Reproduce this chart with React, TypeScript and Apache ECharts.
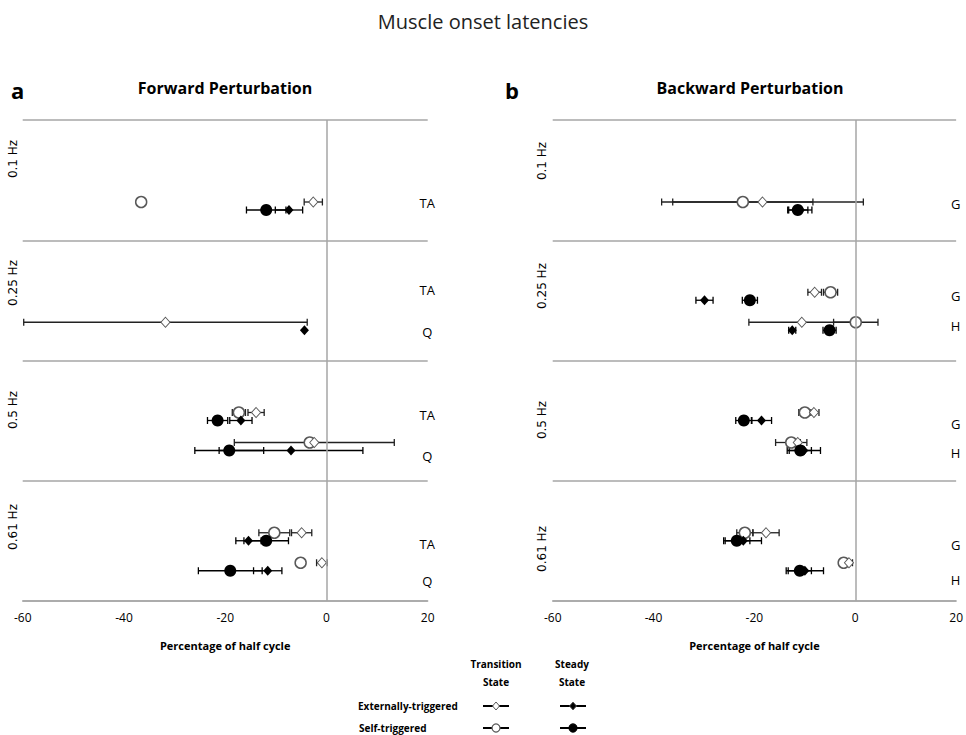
import React, { useEffect, useRef } from "react";
import * as echarts from "echarts";

// ---- categories ----
const FREQS = ["0.1 Hz", "0.25 Hz", "0.5 Hz", "0.61 Hz"];
const FWD_MUSCLES = [["TA"], ["TA", "Q"], ["TA", "Q"], ["TA", "Q"]];
const BWD_MUSCLES = [["G"], ["G", "H"], ["G", "H"], ["G", "H"]];
const X_TICKS = [-60, -40, -20, 0, 20];

// ---- data: [frequency index, muscle, mean (% half cycle), error] ----
const fwdExtTransition: [number, string, number, number][] = [
  [0, "TA", -2.6, 1.8],
  [1, "Q", -31.8, 28],
  [2, "TA", -13.9, 1.6],
  [2, "Q", -2.4, 15.8],
  [3, "TA", -4.9, 2.0],
  [3, "Q", -0.9, 1.05],
];
const fwdSelfTransition: [number, string, number, number][] = [
  [0, "TA", -36.6, 0],
  [2, "TA", -17.3, 1.3],
  [2, "Q", -3.3, 0],
  [3, "TA", -10.3, 3.05],
  [3, "Q", -5.1, 0.8],
];
const fwdExtSteady: [number, string, number, number][] = [
  [0, "TA", -7.4, 2.7],
  [1, "Q", -4.35, 0],
  [2, "TA", -16.9, 2.2],
  [2, "Q", -7.0, 14.2],
  [3, "TA", -15.4, 2.5],
  [3, "Q", -11.6, 2.8],
];
const fwdSelfSteady: [number, string, number, number][] = [
  [0, "TA", -11.9, 3.9],
  [2, "TA", -21.5, 2.0],
  [2, "Q", -19.2, 6.8],
  [3, "TA", -11.9, 4.4],
  [3, "Q", -19.0, 6.3],
];

const bwdExtTransition: [number, string, number, number][] = [
  [0, "G", -18.4, 20],
  [1, "G", -8.05, 1.35],
  [1, "H", -10.6, 10.5],
  [2, "G", -8.2, 1.0],
  [2, "H", -11.4, 0.5],
  [3, "G", -17.7, 2.6],
  [3, "H", -1.25, 0.7],
];
const bwdSelfTransition: [number, string, number, number][] = [
  [0, "G", -22.3, 13.9],
  [1, "G", -4.9, 1.4],
  [1, "H", 0.1, 4.4],
  [2, "G", -10.0, 1.2],
  [2, "H", -12.7, 3.1],
  [3, "G", -21.9, 1.6],
  [3, "H", -2.3, 0.6],
];
const bwdExtSteady: [number, string, number, number][] = [
  [0, "G", -10.9, 2.3],
  [1, "G", -29.9, 1.7],
  [1, "H", -12.5, 0.7],
  [2, "G", -18.6, 2.0],
  [2, "H", -10.2, 3.3],
  [3, "G", -22.2, 3.6],
  [3, "H", -10.0, 3.7],
];
const bwdSelfSteady: [number, string, number, number][] = [
  [0, "G", -11.4, 2.0],
  [1, "G", -20.9, 1.5],
  [1, "H", -5.1, 1.3],
  [2, "G", -22.1, 1.6],
  [2, "H", -10.9, 2.2],
  [3, "G", -23.5, 2.6],
  [3, "H", -11.0, 2.3],
];

// ---- layout (not data) ----
const ROW_PX = 120.25;
const UPPER = 52;
const LOWER = 82;
const STEADY_SHIFT = 8;
// muscle label vertical offsets inside each row (px)
const FWD_LABEL_OFF = [[83], [50, 92], [54.5, 96], [64, 101]];
const BWD_LABEL_OFF = [[84], [56.7, 86.7], [63.5, 92.8], [65, 100]];
const FWD_FREQ_Y = [159, 283, 410, 527];
const BWD_FREQ_Y = [161, 286, 420, 549];

const GRAY = "#a6a6a6";
const FONT = "'Open Sans', 'Liberation Sans', sans-serif";

function yOf(row: number, muscle: string, muscles: string[][], steady: boolean) {
  const list = muscles[row];
  const slot = list.length === 1 || list.indexOf(muscle) === 1 ? LOWER : UPPER;
  return row + (slot + (steady ? STEADY_SHIFT : 0)) / ROW_PX;
}

function toPoints(arr: [number, string, number, number][], muscles: string[][], steady: boolean) {
  return arr.map((d) => [d[2], yOf(d[0], d[1], muscles, steady), d[3]]);
}

function errorSeries(data: number[][], gi: number, color: string) {
  return {
    type: "custom",
    xAxisIndex: gi,
    yAxisIndex: gi,
    z: 2,
    silent: true,
    data,
    encode: { x: 0, y: 1 },
    renderItem: (params: any, api: any) => {
      const x = api.value(0);
      const y = api.value(1);
      const e = api.value(2);
      if (!e) return null;
      const p1 = api.coord([x - e, y]);
      const p2 = api.coord([x + e, y]);
      const h = 3.5;
      const st = { stroke: color, lineWidth: 1.3 };
      return {
        type: "group",
        children: [
          { type: "line", shape: { x1: p1[0], y1: p1[1], x2: p2[0], y2: p2[1] }, style: st },
          { type: "line", shape: { x1: p1[0], y1: p1[1] - h, x2: p1[0], y2: p1[1] + h }, style: st },
          { type: "line", shape: { x1: p2[0], y1: p2[1] - h, x2: p2[0], y2: p2[1] + h }, style: st },
        ],
      };
    },
  };
}

function markerSeries(data: number[][], gi: number, kind: "od" | "oc" | "fd" | "fc") {
  const isDiamond = kind === "od" || kind === "fd";
  const filled = kind === "fd" || kind === "fc";
  return {
    type: "scatter",
    xAxisIndex: gi,
    yAxisIndex: gi,
    z: 3,
    silent: true,
    data: data.map((d) => [d[0], d[1]]),
    symbol: isDiamond ? "diamond" : "circle",
    symbolSize: isDiamond ? [9, 10] : filled ? 12 : 11,
    itemStyle: filled
      ? { color: "#000", opacity: 1 }
      : { color: "#fff", borderColor: "#595959", borderWidth: isDiamond ? 1 : 1.5, opacity: 1 },
  };
}

function labelSeries(muscles: string[][], offs: number[][], gi: number) {
  const data: any[] = [];
  muscles.forEach((list, r) =>
    list.forEach((m, i) => data.push({ value: [20, r + offs[r][i] / ROW_PX], name: m }))
  );
  return {
    type: "scatter",
    xAxisIndex: gi,
    yAxisIndex: gi,
    z: 4,
    silent: true,
    symbolSize: 1,
    itemStyle: { color: "transparent", opacity: 1 },
    data,
    label: {
      show: true,
      position: [0, 0],
      align: "center",
      verticalAlign: "middle",
      formatter: (p: any) => p.name,
      color: "#000",
      textBorderWidth: 0,
      fontSize: 13,
      fontFamily: FONT,
    },
    markLine: {
      silent: true,
      symbol: ["none", "none"],
      label: { show: false },
      lineStyle: { color: GRAY, width: 1.5, type: "solid" },
      data: [{ xAxis: 0 }],
    },
  };
}

function xAxis(gi: number) {
  return {
    type: "value",
    gridIndex: gi,
    min: X_TICKS[0],
    max: X_TICKS[X_TICKS.length - 1],
    interval: 20,
    name: "Percentage of half cycle",
    nameLocation: "middle",
    nameGap: 39,
    nameTextStyle: { fontSize: 11, fontWeight: "bold", color: "#000", fontFamily: FONT },
    axisLine: { show: true, onZero: false, lineStyle: { color: GRAY, width: 1.5 } },
    axisTick: { show: false },
    axisLabel: { fontSize: 12, color: "#000", margin: 10, fontFamily: FONT },
    splitLine: { show: false },
  };
}

function yAxis(gi: number) {
  return {
    type: "value",
    gridIndex: gi,
    min: 0,
    max: FREQS.length,
    interval: 1,
    inverse: true,
    axisLine: { show: false },
    axisTick: { show: false },
    axisLabel: { show: false },
    splitLine: { show: true, lineStyle: { color: GRAY, width: 1.5 } },
  };
}

function freqLabels(x: number, ys: number[]) {
  return FREQS.map((f, i) => ({
    type: "text",
    x,
    y: ys[i],
    rotation: Math.PI / 2,
    style: {
      text: f,
      fill: "#000",
      font: "12px 'DejaVu Sans', sans-serif",
      align: "center",
      verticalAlign: "middle",
    },
  }));
}

function legendGraphics() {
  const els: any[] = [];
  const boldSmall = `bold 10px ${FONT}`;
  const t = (text: string, x: number, y: number, align = "center") => ({
    type: "text",
    x,
    y,
    style: { text, fill: "#000", font: boldSmall, align, verticalAlign: "middle" },
  });
  els.push(t("Transition", 496, 664), t("State", 496, 682));
  els.push(t("Steady", 572, 664), t("State", 572, 682));
  els.push(t("Externally-triggered", 358, 706, "left"), t("Self-triggered", 359, 728, "left"));
  const seg = (cx: number, y: number) => ({
    type: "line",
    shape: { x1: cx - 13, y1: y, x2: cx + 13, y2: y },
    style: { stroke: "#000", lineWidth: 2 },
  });
  const diamond = (cx: number, y: number, fill: string) => ({
    type: "polygon",
    shape: { points: [[cx, y - 4], [cx + 3.5, y], [cx, y + 4], [cx - 3.5, y]] },
    style: { fill, stroke: "#595959", lineWidth: 1 },
  });
  const circ = (cx: number, y: number, fill: string) => ({
    type: "circle",
    shape: { cx, cy: y, r: 4 },
    style: { fill, stroke: fill === "#000" ? "#000" : "#595959", lineWidth: 1.2 },
  });
  els.push(seg(496, 706), diamond(496, 706, "#fff"));
  els.push(seg(573, 706), diamond(573, 706, "#000"));
  els.push(seg(496, 728), circ(496, 728, "#fff"));
  els.push(seg(573, 728), circ(573, 728, "#000"));
  return els;
}

export default function App() {
  const ref = useRef<HTMLDivElement>(null);
  useEffect(() => {
    if (!ref.current) return;
    const chart = echarts.init(ref.current, null, { renderer: "svg" });
    const option: any = {
      animation: false,
      backgroundColor: "#fff",
      title: [
        {
          text: "Muscle onset latencies",
          left: "center",
          top: 6,
          textStyle: { fontSize: 20, fontWeight: "normal", color: "#222", fontFamily: FONT },
        },
      ],
      grid: [
        { left: 22.7, top: 120, width: 405, height: 481 },
        { left: 552.7, top: 120, width: 404.6, height: 481 },
      ],
      xAxis: [xAxis(0), xAxis(1)],
      yAxis: [yAxis(0), yAxis(1)],
      series: [
        errorSeries(toPoints(fwdExtTransition, FWD_MUSCLES, false), 0, "#222"),
        errorSeries(toPoints(fwdSelfTransition, FWD_MUSCLES, false), 0, "#222"),
        errorSeries(toPoints(fwdExtSteady, FWD_MUSCLES, true), 0, "#000"),
        errorSeries(toPoints(fwdSelfSteady, FWD_MUSCLES, true), 0, "#000"),
        markerSeries(toPoints(fwdSelfTransition, FWD_MUSCLES, false), 0, "oc"),
        markerSeries(toPoints(fwdExtTransition, FWD_MUSCLES, false), 0, "od"),
        markerSeries(toPoints(fwdSelfSteady, FWD_MUSCLES, true), 0, "fc"),
        markerSeries(toPoints(fwdExtSteady, FWD_MUSCLES, true), 0, "fd"),
        labelSeries(FWD_MUSCLES, FWD_LABEL_OFF, 0),
        errorSeries(toPoints(bwdExtTransition, BWD_MUSCLES, false), 1, "#222"),
        errorSeries(toPoints(bwdSelfTransition, BWD_MUSCLES, false), 1, "#222"),
        errorSeries(toPoints(bwdExtSteady, BWD_MUSCLES, true), 1, "#000"),
        errorSeries(toPoints(bwdSelfSteady, BWD_MUSCLES, true), 1, "#000"),
        markerSeries(toPoints(bwdSelfTransition, BWD_MUSCLES, false), 1, "oc"),
        markerSeries(toPoints(bwdExtTransition, BWD_MUSCLES, false), 1, "od"),
        markerSeries(toPoints(bwdSelfSteady, BWD_MUSCLES, true), 1, "fc"),
        markerSeries(toPoints(bwdExtSteady, BWD_MUSCLES, true), 1, "fd"),
        labelSeries(BWD_MUSCLES, BWD_LABEL_OFF, 1),
      ],
      graphic: [
        {
          type: "text",
          x: 11,
          y: 90,
          style: { text: "a", fill: "#000", font: `bold 22px ${FONT}`, verticalAlign: "middle" },
        },
        {
          type: "text",
          x: 225,
          y: 88,
          style: {
            text: "Forward Perturbation",
            fill: "#000",
            font: `bold 16px ${FONT}`,
            align: "center",
            verticalAlign: "middle",
          },
        },
        {
          type: "text",
          x: 505,
          y: 90,
          style: { text: "b", fill: "#000", font: `bold 22px ${FONT}`, verticalAlign: "middle" },
        },
        {
          type: "text",
          x: 750,
          y: 88,
          style: {
            text: "Backward Perturbation",
            fill: "#000",
            font: `bold 16px ${FONT}`,
            align: "center",
            verticalAlign: "middle",
          },
        },
        ...freqLabels(13, FWD_FREQ_Y),
        ...freqLabels(542, BWD_FREQ_Y),
        ...legendGraphics(),
      ],
    };
    chart.setOption(option);
    return () => chart.dispose();
  }, []);
  return (
    <div
      ref={ref}
      style={{ position: "fixed", left: 0, top: 0, width: 966, height: 735, background: "#fff" }}
    />
  );
}
